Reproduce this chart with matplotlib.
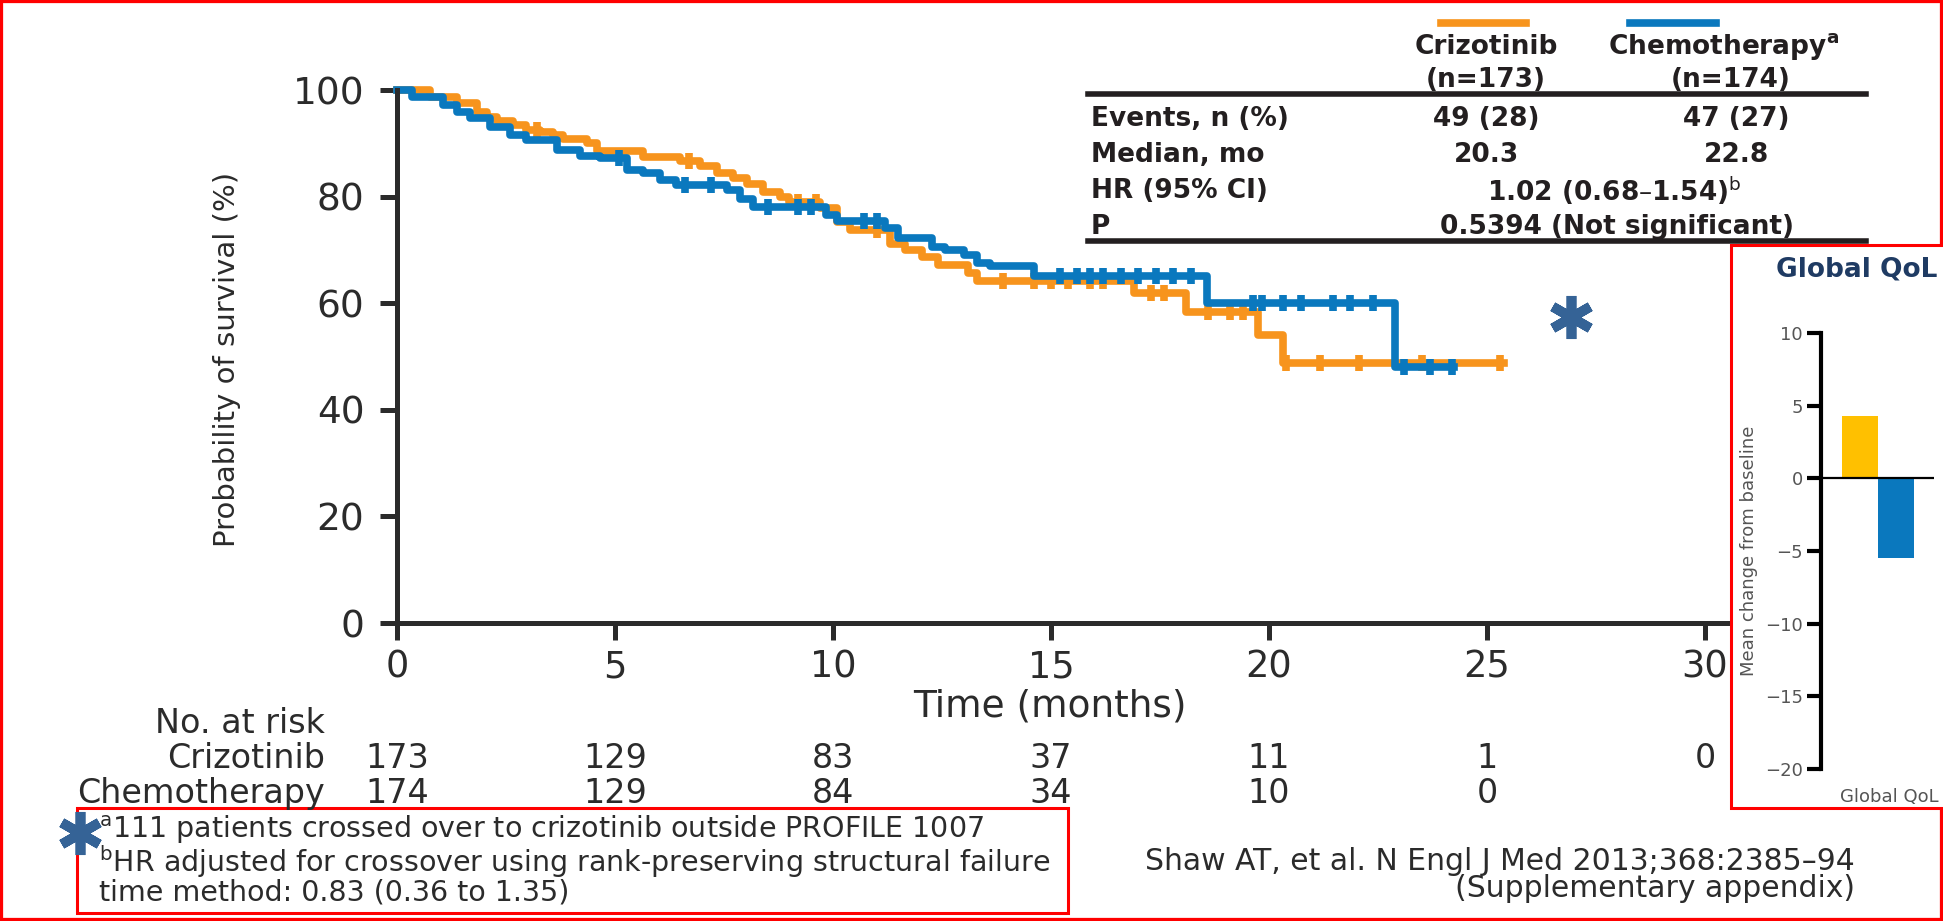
import numpy as np
import matplotlib.pyplot as plt
from matplotlib.patches import Rectangle
from matplotlib.lines import Line2D
from matplotlib.transforms import blended_transform_factory

W, H = 1943, 921

# Kaplan-Meier steps (months, % surviving)
crizo_t = [0, 0.76, 1.37, 1.83, 2.06, 2.29, 2.67, 2.97, 3.28, 3.58, 3.81, 4.35, 4.58,
           5.65, 6.49, 6.95, 7.33, 7.71, 8.02, 8.4, 8.78, 9.0, 9.7, 10.1, 10.4, 11.3,
           11.66, 12.04, 12.4, 13.1, 13.3, 16.9, 18.1, 19.75, 20.32]
crizo_s = [100, 98.7, 97.5, 95.9, 94.9, 94.1, 93.4, 92.5, 92.1, 91.5, 90.9, 90.0, 88.6,
           87.4, 86.6, 85.8, 84.4, 83.5, 82.3, 80.8, 79.9, 79.0, 77.9, 75.3, 73.7, 71.2,
           70.0, 68.7, 67.2, 65.6, 64.2, 61.9, 58.4, 54.0, 48.7]
crizo_end = 25.4
crizo_cens = [3.2, 6.7, 9.2, 9.6, 11.0, 13.9, 14.6, 15.0, 15.4, 15.9, 16.2, 17.3, 17.6,
              18.6, 19.1, 19.4, 20.4, 21.16, 22.07, 23.5, 25.3]

chemo_t = [0, 0.34, 1.06, 1.37, 1.67, 2.13, 2.59, 2.97, 3.66, 4.2, 4.66, 5.27, 5.65,
           6.03, 6.41, 7.56, 7.87, 8.17, 9.83, 10.1, 11.2, 11.5, 12.27, 12.58, 13.0,
           13.3, 13.6, 14.6, 18.57, 22.88]
chemo_s = [100, 98.7, 97.2, 95.9, 94.7, 93.1, 91.6, 90.6, 88.7, 87.6, 87.2, 85.0, 84.4,
           83.1, 82.2, 81.2, 79.6, 78.1, 76.6, 75.4, 74.1, 72.2, 70.6, 70.0, 69.1,
           67.5, 66.9, 65.1, 60.1, 48.0]
chemo_end = 24.25
chemo_cens = [5.1, 6.6, 7.2, 8.5, 9.2, 9.5, 10.7, 11.0, 15.2, 15.6, 15.9, 16.2, 16.6,
              17.0, 17.4, 17.8, 18.2, 19.64, 19.83, 20.33, 20.74, 21.47, 21.85, 22.38,
              23.1, 23.7, 24.2]

# numbers at risk
risk_times = [0, 5, 10, 15, 20, 25, 30]
crizo_risk = [173, 129, 83, 37, 11, 1, 0]
chemo_risk = [174, 129, 84, 34, 10, 0]

# summary table
table_rows = ["Events, n (%)", "Median, mo", "HR (95% CI)", "P"]
crizo_col = ["49 (28)", "20.3"]
chemo_col = ["47 (27)", "22.8"]
hr_text = r"1.02 (0.68–1.54)$^{\mathrm{b}}$"
p_text = "0.5394 (Not significant)"

# quality of life inset
qol_groups = ["Crizotinib", "Chemotherapy"]
qol_change = [4.3, -5.5]

footnotes = [r"$^{\mathrm{a}}$111 patients crossed over to crizotinib outside PROFILE 1007",
             r"$^{\mathrm{b}}$HR adjusted for crossover using rank-preserving structural failure",
             "time method: 0.83 (0.36 to 1.35)"]
citation = ["Shaw AT, et al. N Engl J Med 2013;368:2385–94", "(Supplementary appendix)"]

ORANGE = "#F7941D"
BLUE = "#0A78BE"
YELLOW = "#FFC000"
DARK = "#2B2B2B"
TXT = "#231F20"
RED = "#FF0000"
STAR = "#356396"


def fx(x):
    return x / W


def fy(y):
    return 1 - y / H


def km(ax, t, s, end, cens, color):
    tt = np.append(t, end)
    ss = np.append(s, s[-1])
    ax.step(tt, ss, where="post", color=color, lw=5.5, clip_on=False)
    cy = np.array(s)[np.searchsorted(t, cens, side="right") - 1]
    ax.plot(cens, cy, ls="none", marker="|", ms=11.5, mew=5.5, color=color, clip_on=False)


fig = plt.figure(figsize=(W / 100, H / 100), dpi=100)

# main survival plot
ax = fig.add_axes([fx(397), fy(623), 30.8 * 43.6 / W, (623 - 90) / H])
km(ax, crizo_t, crizo_s, crizo_end, crizo_cens, ORANGE)
km(ax, chemo_t, chemo_s, chemo_end, chemo_cens, BLUE)
ax.set_xlim(0, 30.8)
ax.set_ylim(0, 100)
ax.set_xticks(risk_times)
ax.set_yticks(range(0, 101, 20))
for side in ["top", "right"]:
    ax.spines[side].set_visible(False)
for side in ["left", "bottom"]:
    ax.spines[side].set_linewidth(3.6)
    ax.spines[side].set_color(DARK)
ax.tick_params(axis="both", length=12.5, width=3.6, color=DARK, labelcolor=DARK)
ax.tick_params(axis="y", pad=11, labelsize=27)
ax.tick_params(axis="x", pad=6, labelsize=26.5)

fig.text(fx(227), fy(359), "Probability of survival (%)", rotation=90, ha="center", va="center",
         fontsize=21, color=DARK)
fig.text(fx(1050), fy(706), "Time (months)", ha="center", va="center", fontsize=27, color=DARK)

# risk table
fig.text(fx(325), fy(723), "No. at risk", ha="right", va="center", fontsize=24, color=DARK)
fig.text(fx(325), fy(758), "Crizotinib", ha="right", va="center", fontsize=24, color=DARK)
fig.text(fx(325), fy(793), "Chemotherapy", ha="right", va="center", fontsize=24, color=DARK)
tr = blended_transform_factory(ax.transData, fig.transFigure)
for t, n in zip(risk_times, crizo_risk):
    ax.text(t, fy(758), str(n), transform=tr, ha="center", va="center", fontsize=24, color=DARK)
for t, n in zip(risk_times, chemo_risk):
    ax.text(t, fy(793), str(n), transform=tr, ha="center", va="center", fontsize=24, color=DARK)

# summary table, top right
fig.add_artist(Line2D([fx(1441), fx(1526)], [fy(23)] * 2, lw=5.5, color=ORANGE))
fig.add_artist(Line2D([fx(1630), fx(1716)], [fy(23)] * 2, lw=5.5, color=BLUE))
fig.text(fx(1486), fy(47), "Crizotinib", ha="center", va="center", fontsize=19, weight="bold", color=TXT)
fig.text(fx(1486), fy(80), "(n=173)", ha="center", va="center", fontsize=19, weight="bold", color=TXT)
fig.text(fx(1724), fy(47), r"Chemotherapy$^{\mathbf{a}}$", ha="center", va="center", fontsize=19,
         weight="bold", color=TXT)
fig.text(fx(1731), fy(80), "(n=174)", ha="center", va="center", fontsize=19, weight="bold", color=TXT)
fig.add_artist(Line2D([fx(1088), fx(1866)], [fy(94)] * 2, lw=4, color=TXT))
fig.add_artist(Line2D([fx(1088), fx(1866)], [fy(241)] * 2, lw=4, color=TXT))
row_y = [119, 155, 191, 227]
for label, y in zip(table_rows, row_y):
    fig.text(fx(1091), fy(y), label, ha="left", va="center", fontsize=19, weight="bold", color=TXT)
for i, (a, b) in enumerate(zip(crizo_col, chemo_col)):
    fig.text(fx(1486), fy(row_y[i]), a, ha="center", va="center", fontsize=19, weight="bold", color=TXT)
    fig.text(fx(1736), fy(row_y[i]), b, ha="center", va="center", fontsize=19, weight="bold", color=TXT)
fig.text(fx(1614), fy(row_y[2]), hr_text, ha="center", va="center", fontsize=19, weight="bold", color=TXT)
fig.text(fx(1617), fy(row_y[3]), p_text, ha="center", va="center", fontsize=19, weight="bold", color=TXT)

# QoL inset with its red frame
fig.add_artist(Rectangle((fx(1731), fy(808)), (1960 - 1731) / W, (808 - 245) / H,
                         transform=fig.transFigure, facecolor="white", edgecolor=RED, lw=2.2, zorder=2))
qax = fig.add_axes([fx(1821), fy(769), 113 / W, (769 - 333) / H], zorder=3)
qax.patch.set_alpha(0)
qax.bar(range(len(qol_groups)), qol_change, width=1.0, color=[YELLOW, BLUE])
qax.axhline(0, color="black", lw=1.6)
qax.set_xlim(-1.083, 2.056)
qax.set_ylim(-20, 10)
qax.set_yticks(range(-20, 11, 5))
qax.set_xticks([])
for side in ["top", "right", "bottom"]:
    qax.spines[side].set_visible(False)
qax.spines["left"].set_linewidth(3)
qax.tick_params(axis="y", length=10, width=3, labelsize=13, labelcolor="#555555", pad=3)
fig.text(fx(1857), fy(270), "Global QoL", ha="center", va="center", fontsize=19, weight="bold",
         color="#1F3B63", zorder=4)
fig.text(fx(1749), fy(551), "Mean change from baseline", rotation=90, ha="center", va="center",
         fontsize=13, color="#555555", zorder=4)
fig.text(fx(1889), fy(797), "Global QoL", ha="center", va="center", fontsize=13, color="#555555", zorder=4)

# footnotes
fig.add_artist(Rectangle((fx(77), fy(913)), (1068 - 77) / W, (913 - 808) / H,
                         transform=fig.transFigure, fill=False, edgecolor=RED, lw=2.2))
fig.text(fx(99), fy(860), "\n".join(footnotes), ha="left", va="center", fontsize=20.5,
         linespacing=0.92, color=DARK)
fig.text(fx(1855), fy(875), "\n".join(citation), ha="right", va="center", fontsize=21.5,
         linespacing=0.87, multialignment="right", color=DARK)

# blue asterisk marks
for x, y in [(1571, 317), (80, 833)]:
    fig.add_artist(Line2D([fx(x)], [fy(y)], marker=(6, 2, 0), ms=31, mew=7, color=STAR,
                          solid_capstyle="round", zorder=5))

# outer frame
fig.add_artist(Rectangle((0, 0), 1, 1, transform=fig.transFigure, fill=False, edgecolor=RED, lw=4.5))

fig.savefig("out.png", dpi=100)
